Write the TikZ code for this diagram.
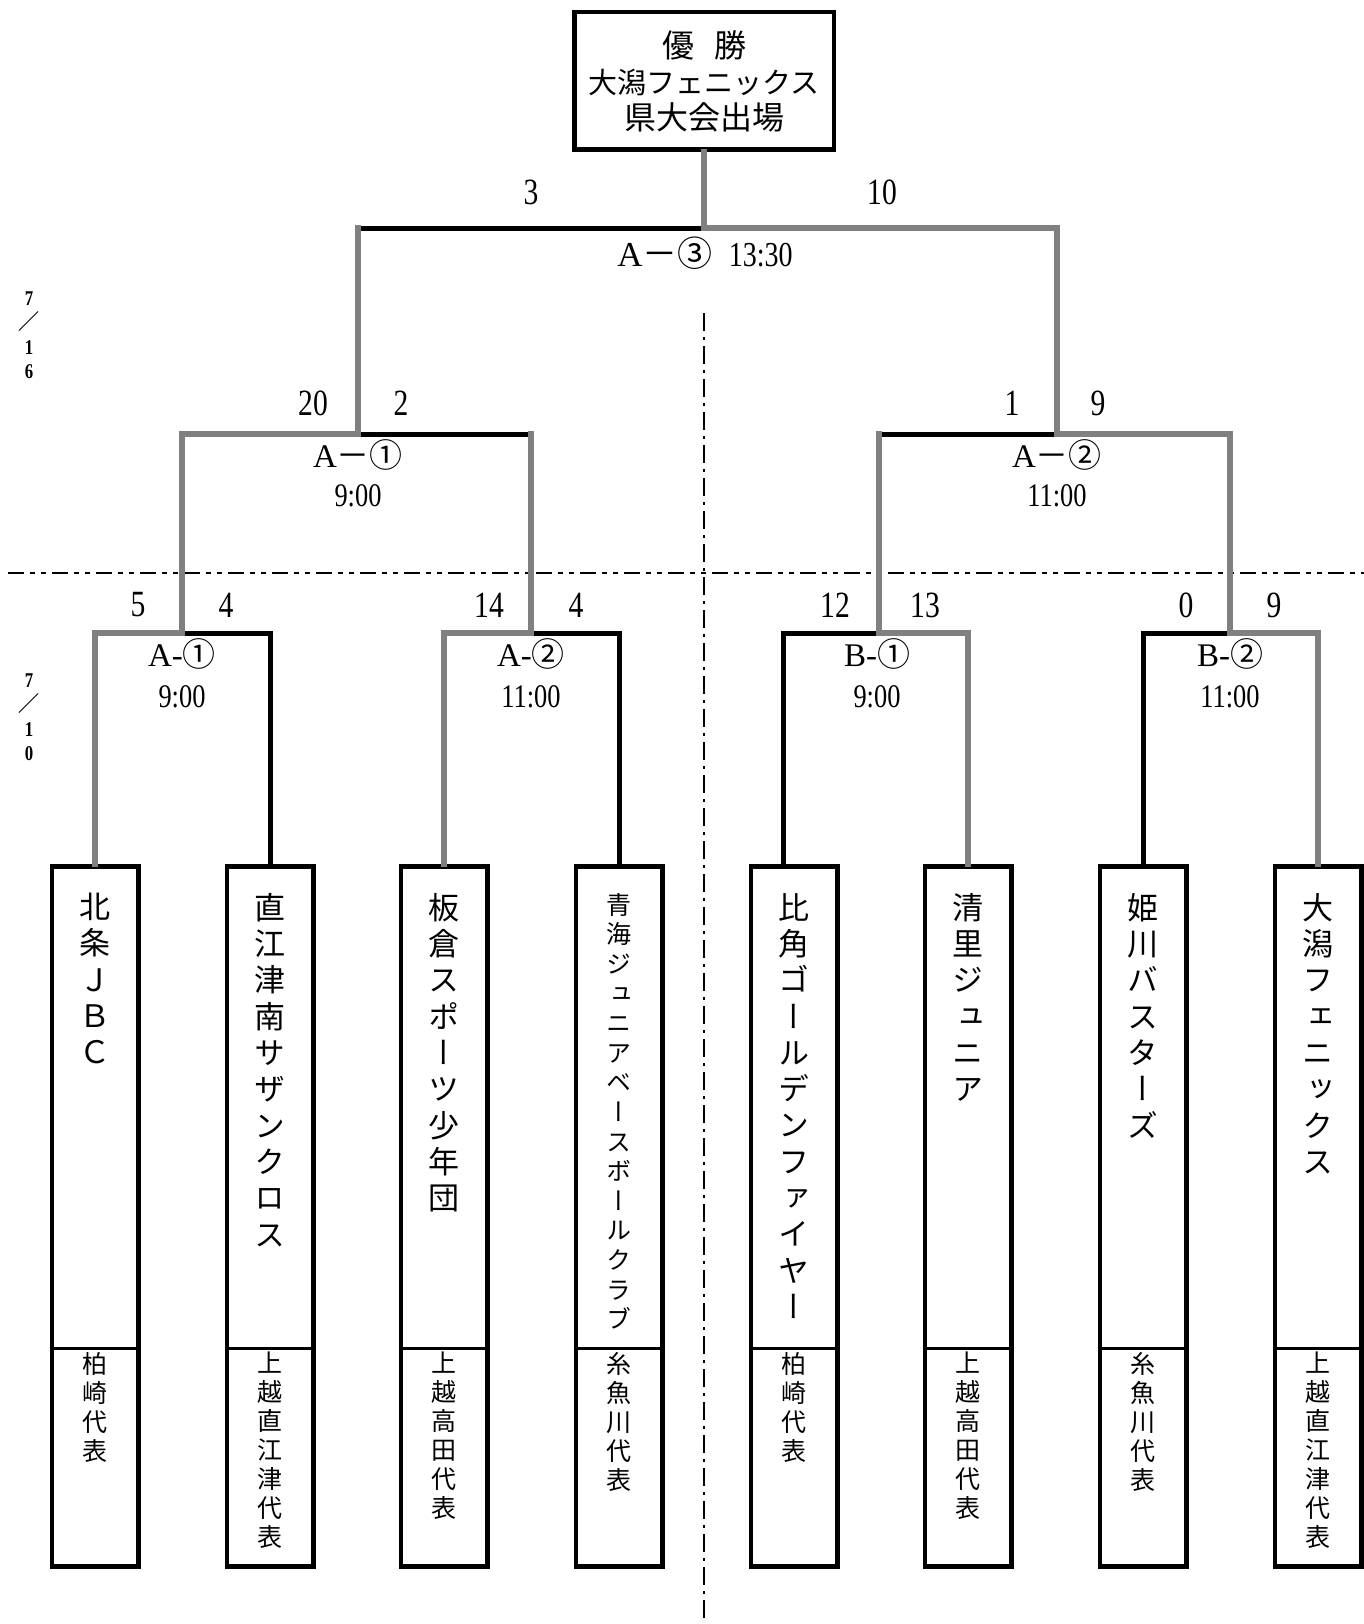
\documentclass[tikz,border=0pt]{standalone}
\usepackage{fontspec}
\usepackage{graphicx}
\setmainfont{Liberation Serif}
\newfontfamily\jp{Noto Sans CJK JP}
\newfontfamily\jpv[RawFeature=+vert]{Noto Sans CJK JP}
\newcommand\narrowtxt[1]{\scalebox{0.8}[1]{#1}}
\begin{document}
\begin{tikzpicture}[x=1pt,y=-1pt,
  lost/.style={line width=5pt, black, line cap=rect},
  won/.style={line width=6pt, black!50, line cap=rect},
  sepline/.style={line width=2.2pt, dash pattern=on 16pt off 6pt on 5pt off 6pt on 5pt off 6pt},
  vsepline/.style={line width=2.2pt, dash pattern=on 18pt off 6pt on 3pt off 6pt},
  topbox/.style={draw, line width=4.5pt, minimum width=259.5pt, minimum height=137.5pt, inner sep=0pt, align=center, font=\jp\fontsize{32}{36}\selectfont},
  teambox/.style={draw, line width=4.5pt, minimum width=86.5pt, minimum height=700pt, inner sep=0pt},
  divline/.style={line width=3pt},
  namett/.style={anchor=north, align=center, inner sep=0pt, font=\jpv\fontsize{31}{36.3}\selectfont},
  smallname/.style={anchor=north, align=center, inner sep=0pt, font=\jpv\fontsize{25}{29.6}\selectfont},
  regiontt/.style={anchor=north, align=center, inner sep=0pt, font=\jpv\fontsize{25}{29}\selectfont},
  score/.style={font=\fontsize{37}{37}\selectfont, inner sep=0pt},
  match/.style={font=\fontsize{33}{40}\selectfont, align=center, inner sep=0pt},
  datett/.style={font=\bfseries\fontsize{21}{24.5}\selectfont, align=center, inner sep=0pt},
]
\useasboundingbox (0,0) rectangle (1364,1624);

% separators
\coordinate (hs1) at (8,573);
\coordinate (hs2) at (1364,573);
\coordinate (vs1) at (704,313);
\coordinate (vs2) at (704,1624);
\draw[sepline] (hs1) -- (hs2);
\draw[vsepline] (vs1) -- (vs2);

% date labels
\node[datett] (d1) at (29,335) {\narrowtxt{7}\\{\jp\bfseries ／}\\\narrowtxt{1}\\\narrowtxt{6}};
\node[datett] (d2) at (29,717) {\narrowtxt{7}\\{\jp\bfseries ／}\\\narrowtxt{1}\\\narrowtxt{0}};

% champion box
\node[topbox] (champ) at (704,81) {優\hspace{20pt}勝\\{\fontsize{29}{36}\selectfont 大潟フェニックス}\\県大会出場};

% team boxes
\node[teambox] (t1) at (95,1216.5) {};
\node[teambox] (t2) at (270,1216.5) {};
\node[teambox] (t3) at (444,1216.5) {};
\node[teambox] (t4) at (619,1216.5) {};
\node[teambox] (t5) at (794,1216.5) {};
\node[teambox] (t6) at (968,1216.5) {};
\node[teambox] (t7) at (1143,1216.5) {};
\node[teambox] (t8) at (1318,1216.5) {};
\coordinate (dv) at (0,1348);
\foreach \t in {t1,t2,t3,t4,t5,t6,t7,t8}
  \draw[divline] (\t.west |- dv) -- (\t.east |- dv);

% team names
\node[namett] (n1) at (95,893) {北\\条\\Ｊ\\Ｂ\\Ｃ};
\node[namett] (n2) at (270,893) {直\\江\\津\\南\\サ\\ザ\\ン\\ク\\ロ\\ス};
\node[namett] (n3) at (444,893) {板\\倉\\ス\\ポ\\ー\\ツ\\少\\年\\団};
\node[smallname] (n4) at (619,893) {青\\海\\ジ\\ュ\\ニ\\ア\\ベ\\ー\\ス\\ボ\\ー\\ル\\ク\\ラ\\ブ};
\node[namett] (n5) at (794,893) {比\\角\\ゴ\\ー\\ル\\デ\\ン\\フ\\ァ\\イ\\ヤ\\ー};
\node[namett] (n6) at (968,893) {清\\里\\ジ\\ュ\\ニ\\ア};
\node[namett] (n7) at (1143,893) {姫\\川\\バ\\ス\\タ\\ー\\ズ};
\node[namett] (n8) at (1318,893) {大\\潟\\フ\\ェ\\ニ\\ッ\\ク\\ス};

% regions
\node[regiontt] (r1) at (95,1352) {柏\\崎\\代\\表};
\node[regiontt] (r2) at (270,1352) {上\\越\\直\\江\\津\\代\\表};
\node[regiontt] (r3) at (444,1352) {上\\越\\高\\田\\代\\表};
\node[regiontt] (r4) at (619,1352) {糸\\魚\\川\\代\\表};
\node[regiontt] (r5) at (794,1352) {柏\\崎\\代\\表};
\node[regiontt] (r6) at (968,1352) {上\\越\\高\\田\\代\\表};
\node[regiontt] (r7) at (1143,1352) {糸\\魚\\川\\代\\表};
\node[regiontt] (r8) at (1318,1352) {上\\越\\直\\江\\津\\代\\表};

% bracket points
\coordinate (q1l) at (95,633);   \coordinate (q1m) at (182,633);  \coordinate (q1r) at (270,633);
\coordinate (q2l) at (444,633);  \coordinate (q2m) at (531,633);  \coordinate (q2r) at (619,633);
\coordinate (q3l) at (783,633);  \coordinate (q3m) at (879,633);  \coordinate (q3r) at (968,633);
\coordinate (q4l) at (1143,633); \coordinate (q4m) at (1230,633); \coordinate (q4r) at (1318,633);
\coordinate (sll) at (182,434);  \coordinate (slm) at (358,434);  \coordinate (slr) at (531,434);
\coordinate (srl) at (879,434);  \coordinate (srm) at (1057,434); \coordinate (srr) at (1230,434);
\coordinate (fl) at (358,228);   \coordinate (fm) at (704,228);   \coordinate (fr) at (1057,228);

% losing lines
\draw[lost] (fl) -- (fm);
\draw[lost] (slm) -- (slr);
\draw[lost] (srl) -- (srm);
\draw[lost] (q1m) -- (q1r) -- (q1r |- t2.north);
\draw[lost] (q2m) -- (q2r) -- (q2r |- t4.north);
\draw[lost] (q3l |- t5.north) -- (q3l) -- (q3m);
\draw[lost] (q4l |- t7.north) -- (q4l) -- (q4m);

% winning paths
\draw[won] (champ.south) -- (fm) -- (fr) -- (srm) -- (srr) -- (q4m) -- (q4r) -- (q4r |- t8.north);
\draw[won] (fl) -- (slm) -- (sll) -- (q1m) -- (q1l) -- (q1l |- t1.north);
\draw[won] (slr) -- (q2m) -- (q2l) -- (q2l |- t3.north);
\draw[won] (srl) -- (q3m) -- (q3r) -- (q3r |- t6.north);

% scores
\node[score] (sf1) at (531,192) {\narrowtxt{3}};
\node[score] (sf2) at (882,192) {\narrowtxt{10}};
\node[score] (ss1) at (313,403) {\narrowtxt{20}};
\node[score] (ss2) at (401,403) {\narrowtxt{2}};
\node[score] (ss3) at (1012,403) {\narrowtxt{1}};
\node[score] (ss4) at (1098,403) {\narrowtxt{9}};
\node[score] (sq1) at (138,605) {\narrowtxt{5}};
\node[score] (sq2) at (226,605) {\narrowtxt{4}};
\node[score] (sq3) at (489,605) {\narrowtxt{14}};
\node[score] (sq4) at (576,605) {\narrowtxt{4}};
\node[score] (sq5) at (835,605) {\narrowtxt{12}};
\node[score] (sq6) at (925,605) {\narrowtxt{13}};
\node[score] (sq7) at (1186,605) {\narrowtxt{0}};
\node[score] (sq8) at (1274,605) {\narrowtxt{9}};

% match labels
\node[match, font=\fontsize{35}{40}\selectfont] (mf) at (705,253) {A{\jp －③}\hspace{16pt}\narrowtxt{13:30}};
\node[match, font=\fontsize{33}{39}\selectfont] (ms1) at (358,473.5) {A{\jp －①}\\\narrowtxt{9:00}};
\node[match, font=\fontsize{33}{39}\selectfont] (ms2) at (1057,473.5) {A{\jp －②}\\\narrowtxt{11:00}};
\node[match, font=\fontsize{33}{41}\selectfont] (mq1) at (182,673.5) {A-{\jp ①}\\\narrowtxt{9:00}};
\node[match, font=\fontsize{33}{41}\selectfont] (mq2) at (531,673.5) {A-{\jp ②}\\\narrowtxt{11:00}};
\node[match, font=\fontsize{33}{41}\selectfont] (mq3) at (877,673.5) {B-{\jp ①}\\\narrowtxt{9:00}};
\node[match, font=\fontsize{33}{41}\selectfont] (mq4) at (1230,673.5) {B-{\jp ②}\\\narrowtxt{11:00}};
\end{tikzpicture}
\end{document}
